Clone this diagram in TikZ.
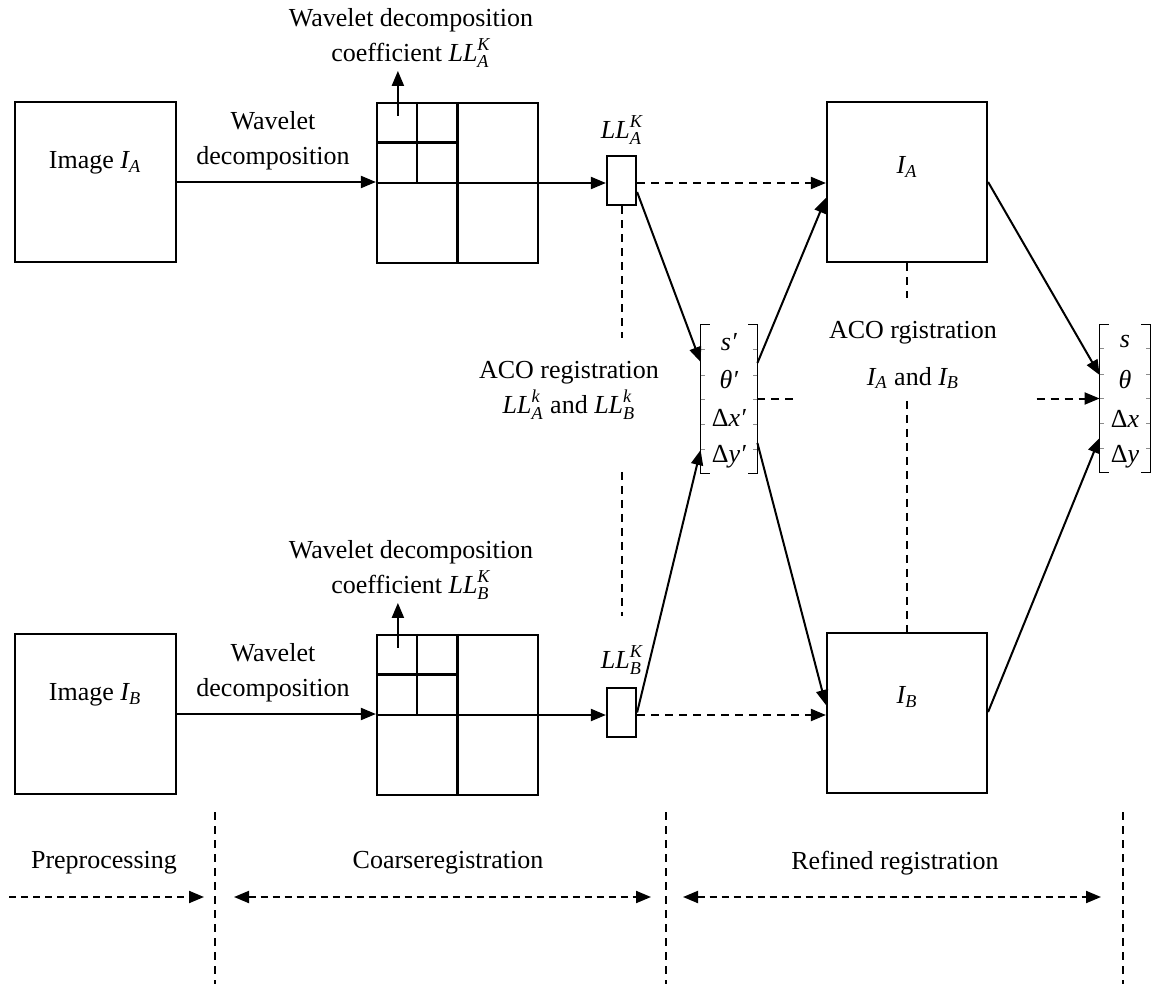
\documentclass[tikz,border=0pt]{standalone}
\usepackage{amsmath}
\usepackage{fontspec}
\setmainfont{Liberation Serif}
\usetikzlibrary{calc,arrows.meta}

\newcommand\vI[1]{$\textit{I}_{\textit{#1}}$}
\newcommand\vLL[2]{$\textit{LL}^{\textit{#1}}_{\textit{#2}}$}

\tikzset{
  box/.style={draw, line width=1.1pt, inner sep=0pt, minimum width=#1},
  flow/.style={line width=1pt, -{Triangle[length=7.5pt,width=6pt]}},
  dflow/.style={flow, dash pattern=on 4pt off 3pt},
  biflow/.style={line width=1pt, dash pattern=on 3.5pt off 2.5pt,
    {Triangle[length=7.5pt,width=6pt]}-{Triangle[length=7.5pt,width=6pt]}},
  guide/.style={line width=1pt, dash pattern=on 4pt off 3pt},
  txt/.style={font=\fontsize{13}{17.5}\selectfont, align=center, inner sep=0pt},
  entry/.style={font=\fontsize{13}{16}\selectfont, inner sep=0pt},
  bracket/.style={line width=0.7pt},
  tick/.style={line width=0.4pt, black!45}
}

\begin{document}
\begin{tikzpicture}[x=0.5pt, y=-0.5pt]
\useasboundingbox (0,0) rectangle (1151,984);

% ---------- upper branch: image A ----------
\node[box=80.5pt, minimum height=80pt] (imgA) at (95.5,182) {};
\node[txt] (imgAt) at (95,163) {Image \vI{A}};
\node[txt] (wdA) at (273,141) {Wavelet\\decomposition};
\node[box=80.5pt, minimum height=80pt] (gridA) at (457.5,183) {};
\node[txt] (coefA) at (411,38) {Wavelet decomposition\\coefficient \vLL{K}{A}};
\node[box=14.5pt, minimum height=24.5pt] (smallA) at (621.5,180.5) {};
\node[txt] (llA) at (622,130) {\vLL{K}{A}};
\node[box=80pt, minimum height=80pt] (IA) at (907,182) {};
\node[txt] (IAt) at (907,167) {\vI{A}};

% ---------- lower branch: image B ----------
\node[box=80.5pt, minimum height=80pt] (imgB) at (95.5,714) {};
\node[txt] (imgBt) at (95,695) {Image \vI{B}};
\node[txt] (wdB) at (273,673) {Wavelet\\decomposition};
\node[box=80.5pt, minimum height=80pt] (gridB) at (457.5,715) {};
\node[txt] (coefB) at (411,570) {Wavelet decomposition\\coefficient \vLL{K}{B}};
\node[box=14.5pt, minimum height=24.5pt] (smallB) at (621.5,712.5) {};
\node[txt] (llB) at (622,660) {\vLL{K}{B}};
\node[box=80pt, minimum height=80pt] (IB) at (907,713) {};
\node[txt] (IBt) at (907,697) {\vI{B}};

% ---------- sub-band grids ----------
\foreach \g in {gridA,gridB}{
  \draw[line width=1.1pt] (\g.north) -- (\g.south);
  \draw[line width=1.1pt] (\g.west) -- (\g.east);
  \draw[line width=1.1pt] ($(\g.north west)!0.25!(\g.north east)$) -- ($(\g.west)!0.5!(\g.center)$);
  \draw[line width=1.1pt] ($(\g.north west)!0.5!(\g.west)$) -- ($(\g.north)!0.5!(\g.center)$);
}
\draw[flow] ($(gridA.north west)+(22,14)$) -- ($(gridA.north west)+(22,-31)$);
\draw[flow] ($(gridB.north west)+(22,14)$) -- ($(gridB.north west)+(22,-31)$);

% ---------- parameter vectors ----------
\node[minimum width=28pt, minimum height=74pt, inner sep=0pt] (mP) at (729,399) {};
\node[entry] (mP1) at (729,342) {\textit{s′}};
\node[entry] (mP2) at (729,380) {\textit{θ′}};
\node[entry] (mP3) at (729,418) {Δ\textit{x′}};
\node[entry] (mP4) at (729,457) {Δ\textit{y′}};
\node[minimum width=25pt, minimum height=73.5pt, inner sep=0pt] (mF) at (1125,398.5) {};
\node[entry] (mF1) at (1125,342) {\textit{s}};
\node[entry] (mF2) at (1125,380) {\textit{θ}};
\node[entry] (mF3) at (1125,419) {Δ\textit{x}};
\node[entry] (mF4) at (1125,457) {Δ\textit{y}};
\foreach \m in {mP,mF}{
  \draw[bracket] ($(\m.north west)+(9,0)$) -- (\m.north west) -- (\m.south west) -- ++(9,0);
  \draw[bracket] ($(\m.north east)+(-9,0)$) -- (\m.north east) -- (\m.south east) -- ++(-9,0);
  \foreach \t in {-50,-24,0,25,50}{
    \draw[tick] ($(\m.west)+(0,\t)$) -- ++(4,0);
    \draw[tick] ($(\m.east)+(0,\t)$) -- ++(-4,0);
  }
}

% ---------- registration labels ----------
\node[txt] (acoL) at (569,390) {ACO registration\\\vLL{k}{A} and \vLL{k}{B}};
\node[txt] (acoR) at (913,355) {ACO rgistration\\[6pt]\vI{A} and \vI{B}};

% ---------- connectors ----------
\draw[flow] (imgA.east) -- (imgA.east -| gridA.west);
\draw[flow] (imgB.east) -- (imgB.east -| gridB.west);
\draw[flow] (gridA.east) -- (gridA.east -| smallA.west);
\draw[flow] (gridB.east) -- (gridB.east -| smallB.west);
\draw[dflow] (gridA.east -| smallA.east) -- (gridA.east -| IA.west);
\draw[dflow] (gridB.east -| smallB.east) -- (gridB.east -| IB.west);

\draw[flow] ($(smallA.east)+(0,11.5)$) -- ($(mP.west)+(0,-37)$);
\draw[flow] (smallB.east) -- ($(mP.west)+(0,51)$);
\draw[flow] ($(mP.east)+(0,-36)$) -- ($(IA.west)+(0,16)$);
\draw[flow] ($(mP.east)+(0,44)$) -- ($(IB.west)+(0,-8)$);
\draw[flow] (IA.east) -- ($(mF.west)+(0,-23.5)$);
\draw[flow] ($(IB.east)+(0,-1)$) -- ($(mF.west)+(0,39.5)$);
\draw[guide] (mP.east) -- ++(36,0);
\draw[dflow] ($(mF.west)+(-63,0)$) -- (mF.west);

\draw[guide] (smallA.south) -- ($(smallA.south)+(0,132)$);
\draw[guide] ($(smallB.north)+(0,-215)$) -- ($(smallB.north)+(0,-71)$);
\draw[guide] (IA.south) -- ++(0,35);
\draw[guide] ($(IB.north)+(0,-231)$) -- (IB.north);

% ---------- stage dividers ----------
\coordinate (d0) at (9,897);
\coordinate (d1t) at (215,812);
\coordinate (d1b) at (215,984);
\coordinate (d2t) at (666,812);
\coordinate (d2b) at (666,984);
\coordinate (d3t) at (1123,812);
\coordinate (d3b) at (1123,984);
\foreach \d in {1,2,3}{\draw[guide] (d\d t) -- (d\d b);}
\node[txt] (pre) at (104,863) {Preprocessing};
\node[txt] (coarse) at (448,863) {Coarseregistration};
\node[txt] (refine) at (895,863) {Refined registration};
\draw[dflow, dash pattern=on 3.5pt off 2.5pt] (d0) -- (204,897);
\draw[biflow] (234,897) -- (651,897);
\draw[biflow] (683,897) -- (1101,897);
\end{tikzpicture}
\end{document}
